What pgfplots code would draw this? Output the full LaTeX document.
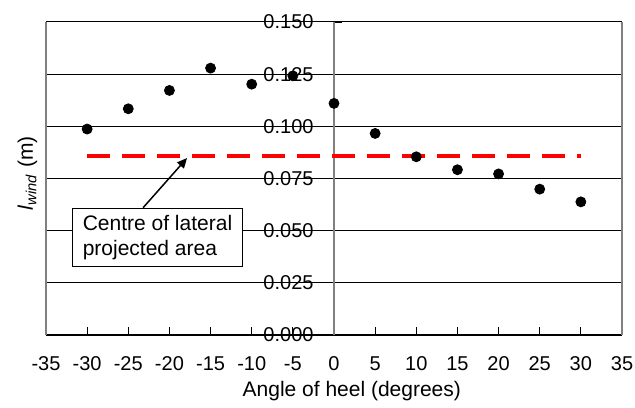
\documentclass[border=0pt]{standalone}
\usepackage{fontspec}
\setmainfont{Liberation Sans}
\usepackage{pgfplots}
\pgfplotsset{compat=1.18}
\usetikzlibrary{arrows.meta,calc}
\pgfplotsset{
  layers/mylayers/.define layer set={
    axis background,axis ticks,axis tick labels,axis grid,axis lines,pre main,main,axis descriptions,axis foreground
  }{
    grid style={/pgfplots/on layer=axis grid},
    tick style={/pgfplots/on layer=axis ticks},
    axis line style={/pgfplots/on layer=axis lines},
    label style={/pgfplots/on layer=axis descriptions},
    ticklabel style={/pgfplots/on layer=axis tick labels},
  },
}
\begin{document}
\begin{tikzpicture}
\begin{axis}[
  set layers=mylayers,
  width=288pt, height=156.5pt, scale only axis,
  xmin=-35, xmax=35, ymin=0, ymax=0.15,
  axis x line*=bottom, axis y line*=center,
  hide obscured x ticks=false, hide obscured y ticks=false,
  xtick={-35,-30,-25,-20,-15,-10,-5,0,5,10,15,20,25,30,35},
  ytick={0,0.025,0.05,0.075,0.1,0.125,0.15},
  ymajorgrids, grid style={black, line width=0.5pt},
  x axis line style={black, line width=0.8pt},
  y axis line style={gray, line width=0.65pt},
  xtick align=inside, ytick align=inside,
  major tick length=4pt,
  tick style={black, line width=0.6pt},
  /pgf/number format/assume math mode=true,
  ticklabel style={font=\fontsize{10}{12}\selectfont},
  yticklabel style={/pgf/number format/fixed, /pgf/number format/precision=3, /pgf/number format/fixed zerofill, xshift=-6.7pt},
  xticklabel style={yshift=-7.3pt},
  xlabel={Angle of heel (degrees)},
  xlabel style={at={(axis description cs:0.5309,-0.1968)}, anchor=base, font=\fontsize{10.5}{12}\selectfont},
  ylabel={\textit{l}\textsubscript{\textit{wind}} (m)},
  ylabel style={at={(axis description cs:-0.0226,0.516)}, anchor=base, rotate=0, font=\fontsize{10.5}{12}\selectfont},
  clip=false,
]
\coordinate (sw) at (rel axis cs:0,0);
\coordinate (ne) at (rel axis cs:1,1);
\draw[gray, line width=0.65pt] (rel axis cs:0,0) -- (rel axis cs:0,1);
\draw[gray, line width=0.65pt] (rel axis cs:1,0) -- (rel axis cs:1,1);
\addplot[red, line width=2pt, dash pattern=on 11.35pt off 6.15pt] coordinates {(-30,0.0859) (30,0.0859)};
\addplot[only marks, mark=*, mark size=2.5pt, black] coordinates {
  (-30,0.0987) (-25,0.1084) (-20,0.1172) (-15,0.1279) (-10,0.1202) (-5,0.1242)
  (0,0.1110) (5,0.0966) (10,0.0854) (15,0.0792) (20,0.0772) (25,0.0699) (30,0.0638)
};
\node[draw, fill=white, line width=0.6pt, align=left, inner xsep=5pt, inner ysep=3.3pt, font=\fontsize{10.5}{12.5}\selectfont] at (axis cs:-21.45,0.0467) {Centre of lateral\\projected area};
\draw[line width=0.75pt, -{Triangle[length=5pt,width=4.5pt]}] (axis cs:-23.2,0.061) -- (axis cs:-17.86,0.0848);
\end{axis}
\pgfresetboundingbox
\path[use as bounding box] ($(sw)+(-23pt,-36pt)$) rectangle ($(ne)+(6.5pt,11pt)$);
\end{tikzpicture}
\end{document}
